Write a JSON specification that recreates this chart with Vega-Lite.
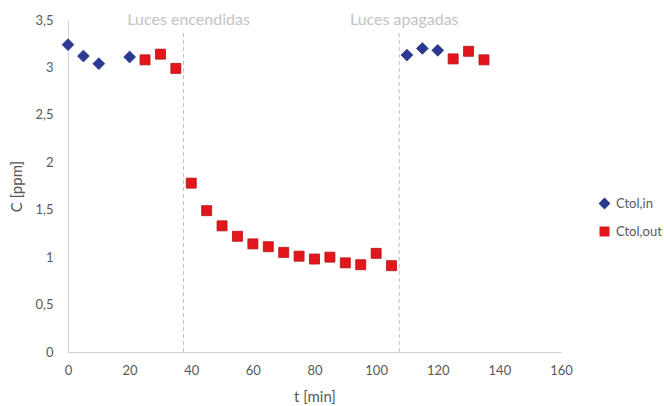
{
  "$schema": "https://vega.github.io/schema/vega-lite/v6.json",
  "width": 493,
  "height": 332,
  "autosize": {"type": "none"},
  "padding": {"left": 68, "top": 20, "right": 103, "bottom": 54},
  "background": "white",
  "config": {
    "view": {"stroke": null},
    "font": "Lato",
    "axis": {"grid": false, "ticks": false, "domainColor": "#d0d0d0", "labelColor": "#595959", "titleColor": "#595959", "labelFontSize": 13, "titleFontSize": 15, "titleFontWeight": "normal", "labelFont": "Lato", "titleFont": "Lato", "labelFlush": false}
  },
  "datasets": {
    "pts": [
      {"t": 0, "C": 3.24, "serie": "Ctol,in"},
      {"t": 5, "C": 3.12, "serie": "Ctol,in"},
      {"t": 10, "C": 3.04, "serie": "Ctol,in"},
      {"t": 20, "C": 3.11, "serie": "Ctol,in"},
      {"t": 25, "C": 3.08, "serie": "Ctol,out"},
      {"t": 30, "C": 3.14, "serie": "Ctol,out"},
      {"t": 35, "C": 2.99, "serie": "Ctol,out"},
      {"t": 40, "C": 1.78, "serie": "Ctol,out"},
      {"t": 45, "C": 1.49, "serie": "Ctol,out"},
      {"t": 50, "C": 1.33, "serie": "Ctol,out"},
      {"t": 55, "C": 1.22, "serie": "Ctol,out"},
      {"t": 60, "C": 1.14, "serie": "Ctol,out"},
      {"t": 65, "C": 1.11, "serie": "Ctol,out"},
      {"t": 70, "C": 1.05, "serie": "Ctol,out"},
      {"t": 75, "C": 1.01, "serie": "Ctol,out"},
      {"t": 80, "C": 0.98, "serie": "Ctol,out"},
      {"t": 85, "C": 1.0, "serie": "Ctol,out"},
      {"t": 90, "C": 0.94, "serie": "Ctol,out"},
      {"t": 95, "C": 0.92, "serie": "Ctol,out"},
      {"t": 100, "C": 1.04, "serie": "Ctol,out"},
      {"t": 105, "C": 0.91, "serie": "Ctol,out"},
      {"t": 110, "C": 3.13, "serie": "Ctol,in"},
      {"t": 115, "C": 3.2, "serie": "Ctol,in"},
      {"t": 120, "C": 3.18, "serie": "Ctol,in"},
      {"t": 125, "C": 3.09, "serie": "Ctol,out"},
      {"t": 130, "C": 3.17, "serie": "Ctol,out"},
      {"t": 135, "C": 3.08, "serie": "Ctol,out"}
    ],
    "events": [
      {"t": 37.5, "label": "Luces encendidas", "y0": 0, "y1": 3.37, "ylab": 3.5},
      {"t": 107.5, "label": "Luces apagadas", "y0": 0, "y1": 3.37, "ylab": 3.5}
    ]
  },
  "layer": [
    {
      "data": {"name": "events"},
      "mark": {"type": "rule", "color": "#bfbfbf", "strokeDash": [4, 3], "strokeWidth": 1},
      "encoding": {
        "x": {"field": "t", "type": "quantitative", "scale": {"domain": [0, 160]}},
        "y": {"field": "y0", "type": "quantitative", "scale": {"domain": [0, 3.5]}},
        "y2": {"field": "y1"}
      }
    },
    {
      "data": {"name": "events"},
      "mark": {"type": "text", "color": "#c4c4c4", "fontSize": 16, "baseline": "middle", "align": "center", "dx": 5, "dy": 0, "font": "Lato"},
      "encoding": {
        "x": {"field": "t", "type": "quantitative"},
        "y": {"field": "ylab", "type": "quantitative"},
        "text": {"field": "label"}
      }
    },
    {
      "data": {"name": "pts"},
      "mark": {"type": "point", "filled": true, "opacity": 1, "strokeWidth": 0.8, "strokeOpacity": 1},
      "encoding": {
        "x": {"field": "t", "type": "quantitative", "scale": {"domain": [0, 160]},
          "axis": {"title": "t [min]", "values": [0, 20, 40, 60, 80, 100, 120, 140, 160], "labelPadding": 12, "titlePadding": 12}},
        "y": {"field": "C", "type": "quantitative", "scale": {"domain": [0, 3.5]},
          "axis": {"title": "C [ppm]", "values": [0, 0.5, 1, 1.5, 2, 2.5, 3, 3.5], "labelExpr": "replace(toString(datum.value), '.', ',')", "labelPadding": 15, "titlePadding": 10}},
        "color": {"field": "serie", "type": "nominal",
          "scale": {"domain": ["Ctol,in", "Ctol,out"], "range": ["#2B3990", "#E3161C"]},
          "legend": {"title": null, "orient": "none", "legendX": 530, "legendY": 177, "labelFontSize": 13, "labelColor": "#595959", "labelFont": "Lato", "symbolSize": 45, "rowPadding": 14, "labelOffset": 5, "symbolOpacity": 1, "symbolStrokeWidth": 0}},
        "stroke": {"field": "serie", "type": "nominal",
          "scale": {"domain": ["Ctol,in", "Ctol,out"], "range": ["#2B3990", "#B51218"]}, "legend": null},
        "size": {"field": "serie", "type": "nominal",
          "scale": {"domain": ["Ctol,in", "Ctol,out"], "range": [140, 100]}, "legend": null},
        "shape": {"field": "serie", "type": "nominal",
          "scale": {"domain": ["Ctol,in", "Ctol,out"], "range": ["diamond", "square"]}}
      }
    }
  ]
}
